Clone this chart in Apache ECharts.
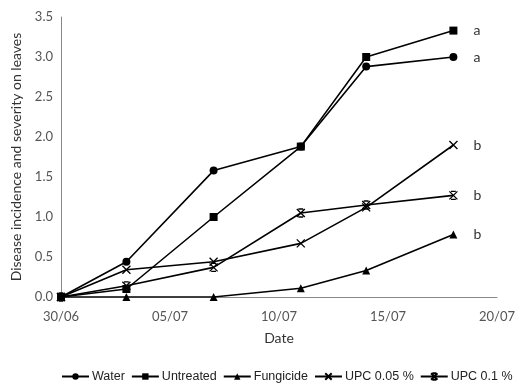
<!DOCTYPE html>
<html>
<head>
<meta charset="utf-8">
<script src="https://cdn.jsdelivr.net/npm/echarts@6/dist/echarts.min.js"></script>
<style>
  html, body { margin: 0; padding: 0; background: #fff; }
  #chart { width: 530px; height: 385px; }
</style>
</head>
<body>
<div id="chart"></div>
<script>
// days after 30/06
var days = [0, 3, 7, 11, 14, 18];
var tickLabels = ['30/06', '05/07', '10/07', '15/07', '20/07'];

var water     = [0, 0.44, 1.58, 1.88, 2.88, 3.00];
var untreated = [0, 0.10, 1.00, 1.88, 3.00, 3.33];
var fungicide = [0, 0.00, 0.00, 0.11, 0.33, 0.78];
var upc005    = [0, 0.34, 0.44, 0.67, 1.12, 1.90];
var upc01     = [0, 0.14, 0.37, 1.05, 1.15, 1.27];

var letters = { 'Water': 'a', 'Untreated': 'a', 'Fungicide': 'b', 'UPC 0.05 %': 'b', 'UPC 0.1 %': 'b' };

var crossPath = 'path://M0,0L10,10M10,0L0,10';
var barCrossPath = 'path://M0,0L10,10M10,0L0,10M2,0L8,0M2,10L8,10';

function pairs(vals) {
  return days.map(function (d, i) { return [d, vals[i]]; });
}

function makeSeries(name, vals, symbol, size, stroked) {
  return {
    name: name,
    type: 'line',
    data: pairs(vals),
    symbol: symbol,
    symbolSize: size,
    showAllSymbol: true,
    lineStyle: { color: '#000', width: 1.6 },
    itemStyle: stroked
      ? { color: 'rgba(0,0,0,0)', borderColor: '#000', borderWidth: 1.3 }
      : { color: '#000', borderColor: '#000', borderWidth: 0 },
    color: '#000',
    endLabel: {
      show: true,
      formatter: letters[name],
      distance: 20,
      color: '#333',
      fontFamily: 'Lato',
      fontSize: 14
    },
    emphasis: { disabled: true }
  };
}

var chart = echarts.init(document.getElementById('chart'));
chart.setOption({
  animation: false,
  backgroundColor: '#fff',
  grid: { left: 61, right: 33, top: 17, bottom: 88, outerBoundsMode: 'none', containLabel: false },
  legend: {
    bottom: 2,
    left: 61,
    width: 469,
    padding: 0,
    itemGap: 6,
    itemWidth: 27,
    itemHeight: 8,
    textStyle: { fontFamily: 'Liberation Sans', fontSize: 12.5, color: '#222', padding: [0, 0, 0, -2] },
    data: ['Water', 'Untreated', 'Fungicide', 'UPC 0.05 %', 'UPC 0.1 %']
  },
  xAxis: {
    type: 'value',
    min: 0,
    max: 20,
    interval: 5,
    name: 'Date',
    nameLocation: 'middle',
    nameGap: 34,
    nameTextStyle: { fontFamily: 'Lato', fontSize: 14, color: '#333' },
    axisLine: { lineStyle: { color: '#888', width: 1 } },
    axisTick: { show: false },
    splitLine: { show: false },
    axisLabel: {
      fontFamily: 'Lato', fontSize: 13, color: '#555', margin: 13,
      formatter: function (v) { return tickLabels[Math.round(v / 5)]; }
    }
  },
  yAxis: {
    type: 'value',
    min: 0,
    max: 3.5,
    interval: 0.5,
    name: 'Disease incidence and severity on leaves',
    nameLocation: 'middle',
    nameGap: 36,
    nameTextStyle: { fontFamily: 'Lato', fontSize: 14, color: '#333' },
    axisLine: { show: true, lineStyle: { color: '#888', width: 1 } },
    axisTick: { show: false },
    splitLine: { show: false },
    axisLabel: {
      fontFamily: 'Lato', fontSize: 13, color: '#555', margin: 8,
      formatter: function (v) { return v.toFixed(1); }
    }
  },
  series: [
    makeSeries('Water', water, 'circle', 8, false),
    makeSeries('Untreated', untreated, 'rect', 8, false),
    makeSeries('Fungicide', fungicide, 'triangle', 8, false),
    makeSeries('UPC 0.05 %', upc005, crossPath, 8, true),
    makeSeries('UPC 0.1 %', upc01, barCrossPath, 8, true)
  ]
});
</script>
</body>
</html>
